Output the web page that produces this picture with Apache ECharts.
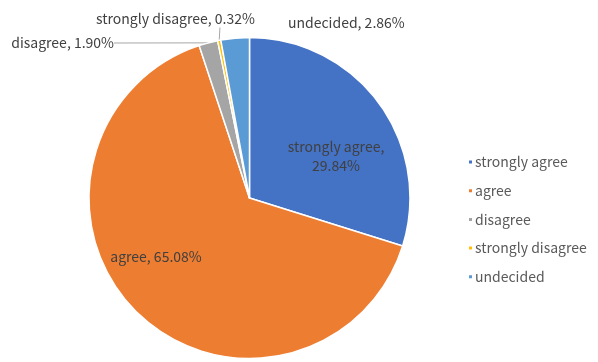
<!DOCTYPE html>
<html><head><meta charset="utf-8">
<script src="https://cdn.jsdelivr.net/npm/echarts@6/dist/echarts.min.js"></script>
<style>html,body{margin:0;padding:0;background:#fff}#c{width:598px;height:362px}</style>
</head><body><div id="c"></div>
<script>
var categories = ['strongly agree', 'agree', 'disagree', 'strongly disagree', 'undecided'];
var values = [29.84, 65.08, 1.90, 0.32, 2.86];
var colors = ['#4472C4', '#ED7D31', '#A5A5A5', '#FFC000', '#5B9BD5'];

var FONT = 'Noto Sans CJK SC';
var labelPos = [
  {x: 336, y: 156, align: 'center', verticalAlign: 'middle'},
  {x: 156, y: 257, align: 'center', verticalAlign: 'middle'},
  {x: 114, y: 43, align: 'right', verticalAlign: 'middle'},
  {x: 96, y: 19, align: 'left', verticalAlign: 'middle'},
  {x: 288, y: 23, align: 'left', verticalAlign: 'middle'}
];

var data = categories.map(function (name, i) {
  var item = {name: name, value: values[i], itemStyle: {color: colors[i]}};
  if (i < 2) {
    item.label = {position: 'inside'};
    item.labelLine = {show: false};
  } else if (i === 2) {
    item.labelLine = {show: true, length: 2, length2: 0};
  } else if (i === 3) {
    item.labelLine = {show: true, length: 2, length2: 0};
  } else {
    item.labelLine = {show: false};
  }
  return item;
});

var chart = echarts.init(document.getElementById('c'), null, {renderer: 'canvas'});
chart.setOption({
  animation: false,
  color: colors,
  legend: {
    orient: 'vertical',
    left: 462,
    top: 150,
    icon: 'rect',
    itemWidth: 5,
    itemHeight: 5,
    itemGap: 14.7,
    textStyle: {fontFamily: FONT, fontSize: 14, color: '#595959', padding: [0, 0, 0, -3]},
    data: categories
  },
  series: [{
    type: 'pie',
    center: [249.5, 198],
    radius: [0, 160.5],
    startAngle: 90,
    clockwise: true,
    itemStyle: {borderColor: '#fff', borderWidth: 1.5},
    label: {
      show: true,
      fontFamily: FONT,
      fontSize: 14,
      lineHeight: 19,
      color: '#404040',
      overflow: 'none',
      rich: {
        t: {fontFamily: FONT, fontSize: 14, color: '#404040', lineHeight: 17},
        s: {width: 89, fontSize: 14, lineHeight: 17}
      },
      formatter: function (p) {
        var v = p.value.toFixed(2) + '%';
        if (p.dataIndex === 0) return p.name + ',\n' + v;
        if (p.dataIndex === 3) return '{t|' + p.name + ', ' + v + '}{s| }';
        return p.name + ', ' + v;
      }
    },
    labelLine: {lineStyle: {color: '#A6A6A6', width: 1}, smooth: false},
    labelLayout: function (p) {
      return labelPos[p.dataIndex];
    },
    emphasis: {disabled: true},
    data: data
  }]
});
</script>
</body></html>
